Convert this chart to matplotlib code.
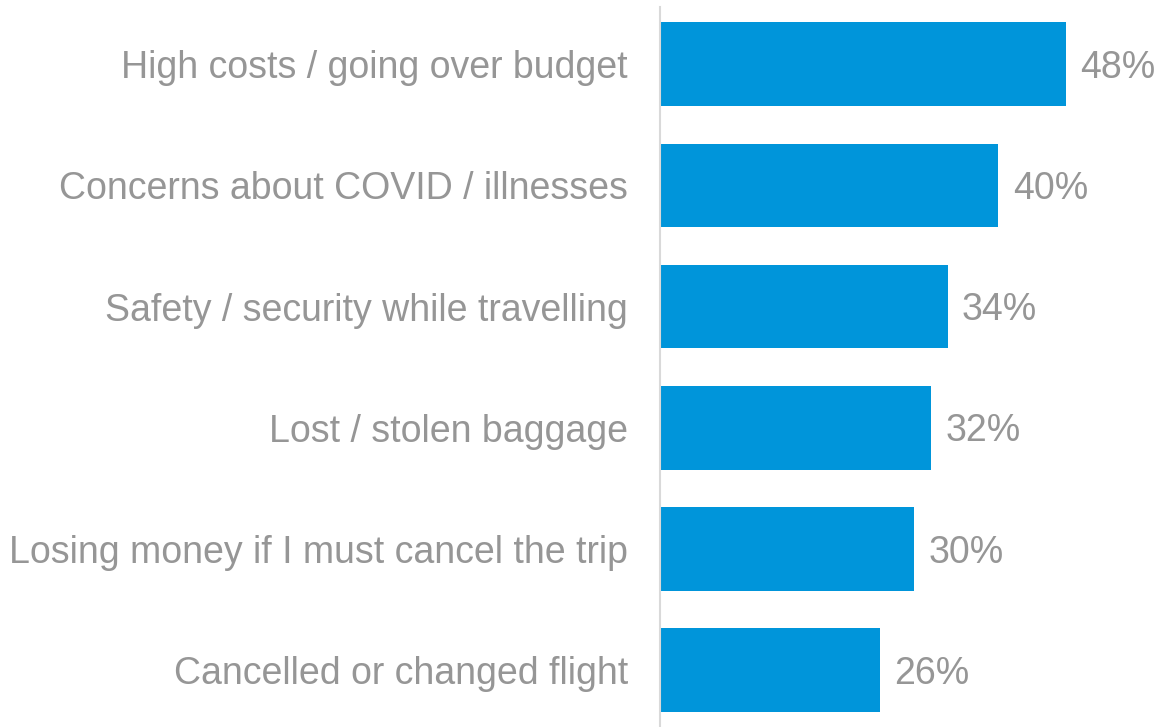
import matplotlib
matplotlib.use("Agg")
import matplotlib.pyplot as plt

plt.rcParams['font.family'] = ['Liberation Sans', 'DejaVu Sans']

# concerns, top to bottom
labels = ['High costs / going over budget',
          'Concerns about COVID / illnesses',
          'Safety / security while travelling',
          'Lost / stolen baggage',
          'Losing money if I must cancel the trip',
          'Cancelled or changed flight']
values = [48, 40, 34, 32, 30, 26]

bar_color = '#0095DA'
text_color = '#969696'

fig = plt.figure(figsize=(11.6, 7.27), dpi=100)
ax = fig.add_axes([660 / 1160, -0.005, 500 / 1160, 1.0])

ypos = list(range(len(labels)))
ax.barh(ypos, values, height=0.69, color=bar_color)
ax.set_ylim(len(labels) - 0.5, -0.5)
ax.set_xlim(0, 500 / 8.46)

ax.set_yticks(ypos)
ax.set_yticklabels(labels, fontsize=27, color=text_color)
ax.tick_params(axis='y', length=0, pad=23)
ax.set_xticks([])

for y, v in zip(ypos, values):
    ax.text(v + 1.7, y + 0.03, str(v) + '%', va='center', ha='left',
            fontsize=27, color=text_color)

for s in ['top', 'right', 'bottom']:
    ax.spines[s].set_visible(False)
ax.spines['left'].set_color('#d9d9d9')
ax.spines['left'].set_linewidth(1.5)
ax.spines['left'].set_bounds(-0.47, 5.5)

fig.savefig('out.png', dpi=100)
